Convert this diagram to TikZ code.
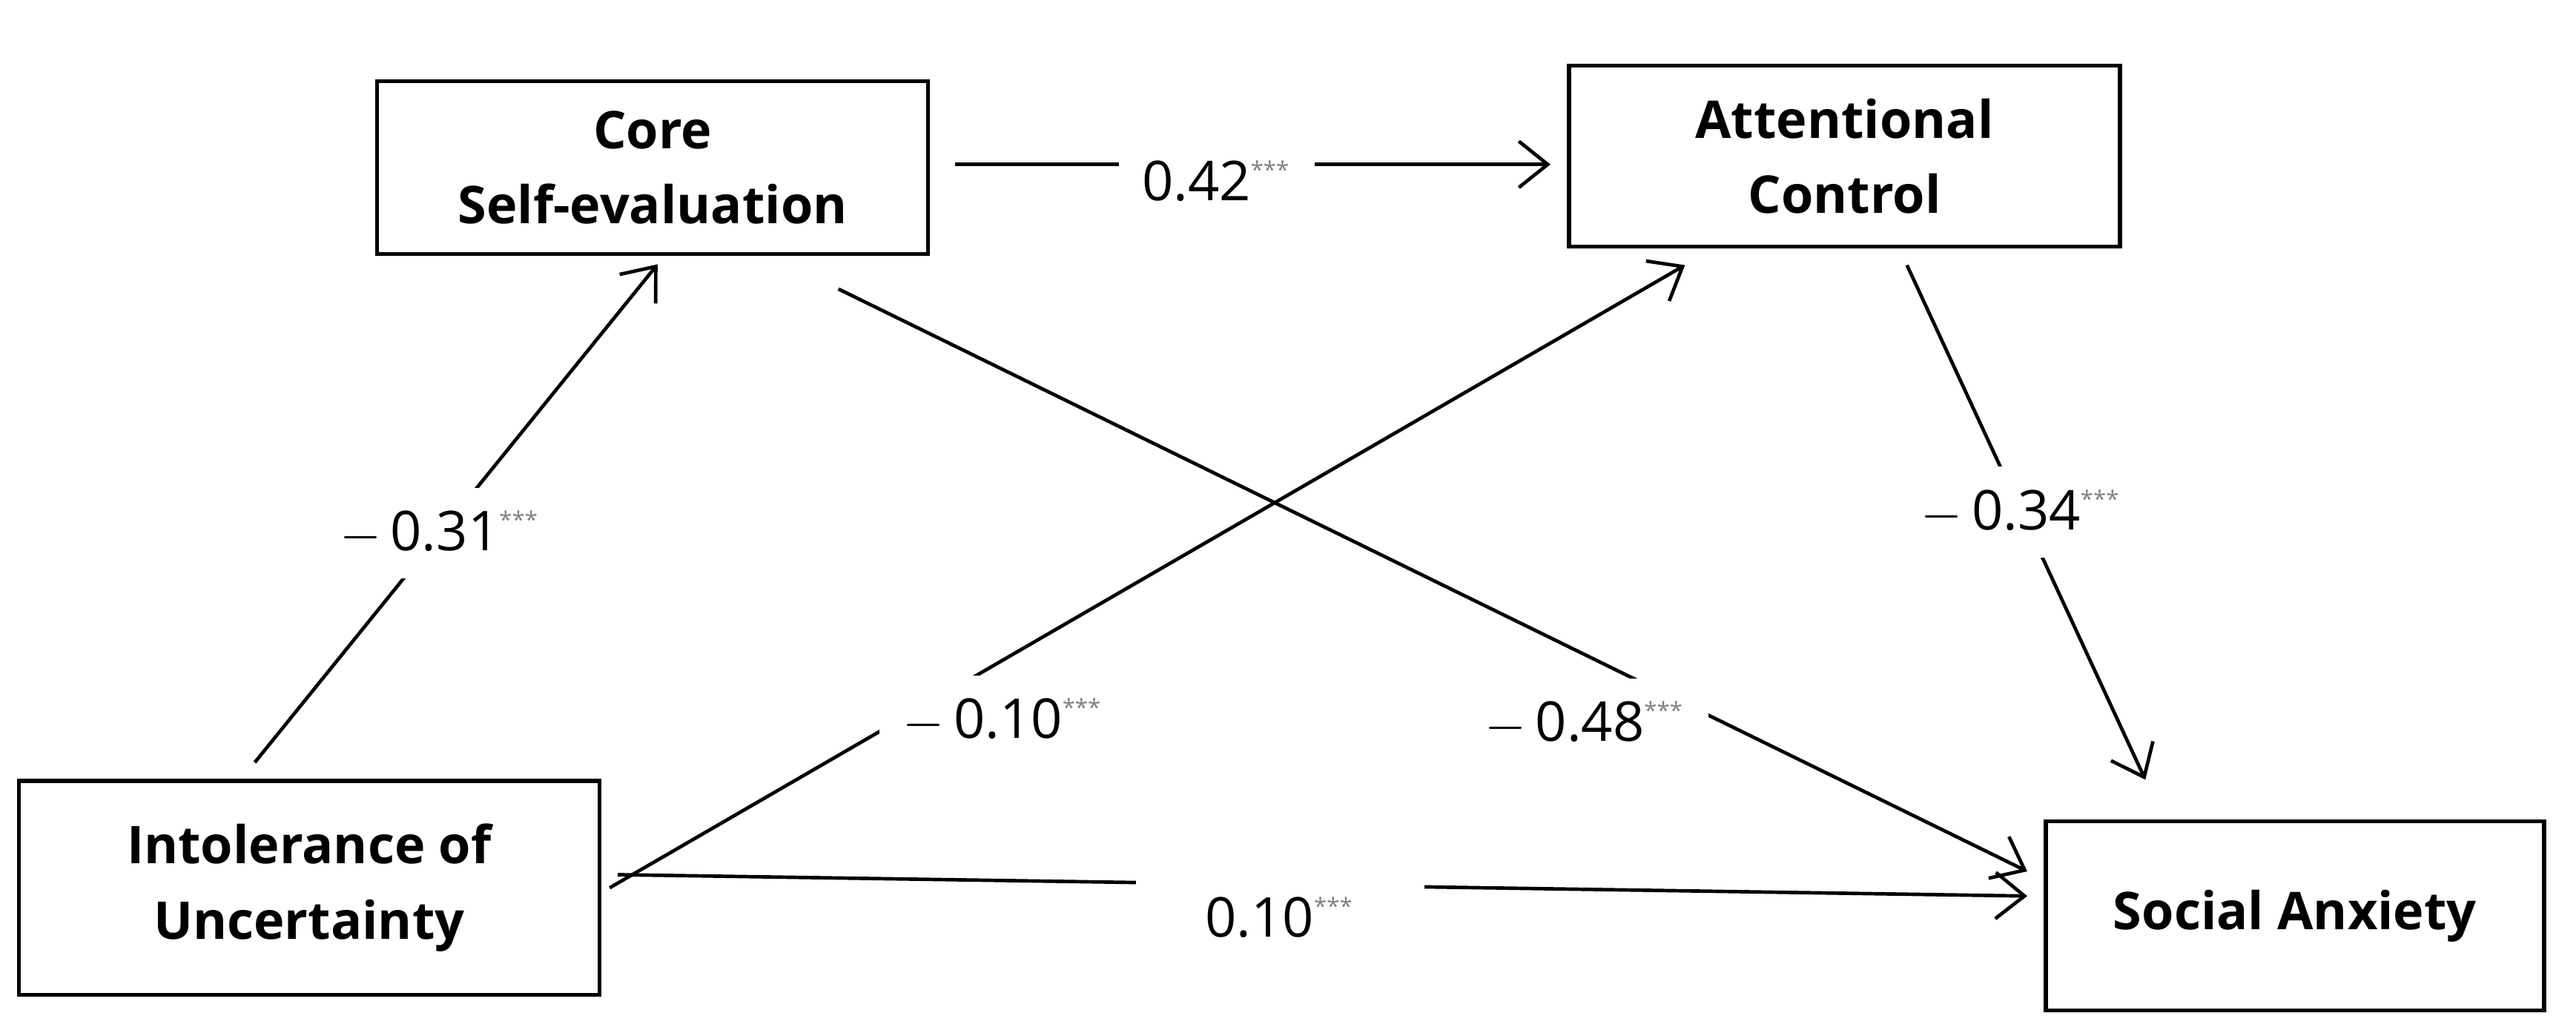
\documentclass[tikz,border=0pt]{standalone}
\usepackage{fontspec}
\setmainfont{Open Sans}
\usetikzlibrary{calc,arrows.meta}

\tikzset{
  box/.style={draw,line width=0.7pt,align=center,font=\fontsize{9}{13}\selectfont\bfseries,inner sep=0pt},
  path/.style={line width=0.6pt,-{Straight Barb[length=5pt,width=8pt]}},
  coef/.style={fill=white,font=\fontsize{9.5}{11}\selectfont,inner sep=4pt}
}
\newcommand{\sig}{\textsuperscript{\color{gray}\fontsize{4}{4}\selectfont***}}

\begin{document}
\begin{tikzpicture}[x=0.01cm,y=-0.01cm]
\useasboundingbox (0,0) rectangle (1567,630);

% === Boxes ===
\node[box,minimum width=3.35cm,minimum height=1.05cm] (core) at (397,102) {Core\\Self-evaluation};
\node[box,minimum width=3.35cm,minimum height=1.1cm] (attn) at (1122,95) {Attentional\\Control};
\node[box,minimum width=3.53cm,minimum height=1.3cm] (intol) at (188,540) {Intolerance of\\Uncertainty};
\node[box,minimum width=3.03cm,minimum height=1.15cm] (anx) at (1396,557) {Social Anxiety};

% === Paths ===
\draw[path] ($(core.east)+(15,-2)$) -- node[coef,pos=0.44,yshift=-0.1cm]{0.42\sig} ($(attn.west)+(-10,5)$);
\draw[path] ($(intol.north)+(-33,-10)$) -- node[coef,pos=0.46]{$-$\,0.31\sig} ($(core.south)+(3,5)$);
\draw[path] ($(intol.east)+(5,0)$) -- node[coef,pos=0.366,yshift=-0.37cm]{$-$\,0.10\sig} ($(attn.south)+(-97,10)$);
\draw[path] ($(core.south)+(113,20)$) -- node[coef,pos=0.628,yshift=-0.42cm]{$-$\,0.48\sig} ($(anx.west)+(-10,-27)$);
\draw[path] ($(attn.south)+(38,10)$) -- node[coef,pos=0.48]{$-$\,0.34\sig} ($(anx.north)+(-91,-24)$);
\draw[path] ($(intol.east)+(10,-8)$) -- node[coef,pos=0.47,yshift=-0.2cm,inner ysep=9pt,inner xsep=12pt]{0.10\sig} ($(anx.west)+(-10,-12)$);

\end{tikzpicture}
\end{document}
